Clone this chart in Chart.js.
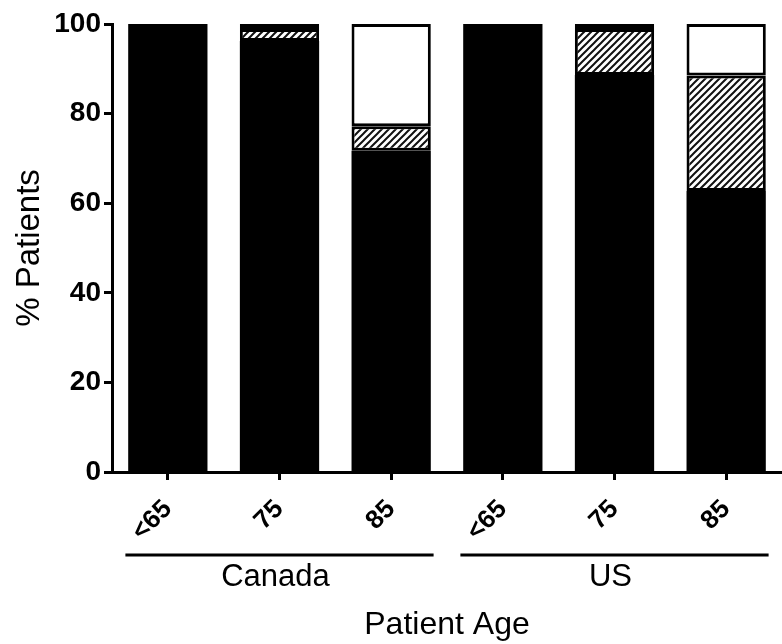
<!DOCTYPE html>
<html>
<head>
<meta charset="utf-8">
<script src="https://cdn.jsdelivr.net/npm/chart.js@4.4.1/dist/chart.umd.min.js"></script>
<style>
  html, body { margin: 0; padding: 0; background: #fff; }
  #wrap { width: 782px; height: 644px; }
</style>
</head>
<body>
<div id="wrap"><canvas id="myChart"></canvas></div>
<script>
// data (% of patients per age group)
var ageLabels = ["<65", "75", "85", "<65", "75", "85"];
var countries = ["Canada", "US"];
var blackValues = [100, 96.2, 71.7, 100, 88.6, 62.7];
var hatchValues = [0, 2.7, 5.5, 0, 10.3, 25.8];
var whiteValues = [0, 1.1, 22.8, 0, 1.1, 11.5];

var FONT = "'Liberation Sans', Arial, Helvetica, sans-serif";

// diagonal hatch fill
function makeHatch() {
  var size = 7;
  var c = document.createElement('canvas');
  c.width = size; c.height = size;
  var g = c.getContext('2d');
  g.fillStyle = '#fff';
  g.fillRect(0, 0, size, size);
  g.strokeStyle = '#111';
  g.lineWidth = 2;
  g.beginPath();
  g.moveTo(-1, size + 1); g.lineTo(size + 1, -1);
  g.moveTo(-1, 1); g.lineTo(1, -1);
  g.moveTo(size - 1, size + 1); g.lineTo(size + 1, size - 1);
  g.stroke();
  return g.createPattern(c, 'repeat');
}

// lines + country names under the age ticks
var groupPlugin = {
  id: 'groups',
  afterDraw: function(chart) {
    var ctx = chart.ctx;
    var x = chart.scales.x;
    var cw = x.getPixelForValue(1) - x.getPixelForValue(0);
    ctx.save();
    ctx.strokeStyle = '#000';
    ctx.lineWidth = 3;
    ctx.fillStyle = '#000';
    ctx.font = '31px ' + FONT;
    ctx.textAlign = 'center';
    ctx.textBaseline = 'middle';
    countries.forEach(function(name, i) {
      var x0 = x.getPixelForValue(i * 3) - 0.38 * cw;
      var x1 = x.getPixelForValue(i * 3 + 2) + 0.38 * cw;
      ctx.beginPath();
      ctx.moveTo(x0, 555);
      ctx.lineTo(x1, 555);
      ctx.stroke();
      ctx.fillText(name, (x0 + x1) / 2 - 4, 577);
    });
    ctx.restore();
  }
};

var seg = {
  borderColor: '#000',
  borderWidth: 3,
  borderSkipped: false,
  categoryPercentage: 1,
  barPercentage: 0.71
};

new Chart("myChart", {
  type: "bar",
  data: {
    labels: ageLabels,
    datasets: [
      Object.assign({}, seg, { label: "black", data: blackValues, backgroundColor: '#000', borderWidth: 0 }),
      Object.assign({}, seg, { label: "hatched", data: hatchValues, backgroundColor: makeHatch() }),
      Object.assign({}, seg, { label: "white", data: whiteValues, backgroundColor: '#fff' })
    ]
  },
  options: {
    responsive: true,
    maintainAspectRatio: false,
    animation: false,
    layout: { padding: { top: 24, right: 0, bottom: 0, left: 0 } },
    plugins: {
      legend: { display: false },
      tooltip: { enabled: false }
    },
    scales: {
      x: {
        stacked: true,
        offset: true,
        grid: { display: true, drawOnChartArea: false, offset: false, drawTicks: true, tickLength: 8, tickWidth: 3, tickColor: '#000' },
        border: { display: true, color: '#000', width: 3 },
        ticks: {
          color: '#000',
          font: { family: FONT, size: 26, weight: 'bold' },
          minRotation: 45,
          maxRotation: 45,
          autoSkip: false,
          padding: 14
        },
        title: {
          display: true,
          text: "Patient Age",
          color: '#000',
          font: { family: FONT, size: 32 },
          padding: { top: 0, bottom: 0 }
        },
        afterFit: function(s) { s.height = 172; }
      },
      y: {
        stacked: true,
        min: 0,
        max: 100,
        grid: { display: true, drawOnChartArea: false, drawTicks: true, tickLength: 8, tickWidth: 3, tickColor: '#000' },
        border: { display: true, color: '#000', width: 3 },
        ticks: {
          stepSize: 20,
          color: '#000',
          font: { family: FONT, size: 28, weight: 'bold' },
          padding: 3
        },
        title: {
          display: true,
          text: "% Patients",
          color: '#000',
          font: { family: FONT, size: 33 },
          padding: { top: 10, bottom: 0 }
        },
        afterFit: function(s) { s.width = 112; }
      }
    }
  },
  plugins: [groupPlugin]
});
</script>
</body>
</html>
